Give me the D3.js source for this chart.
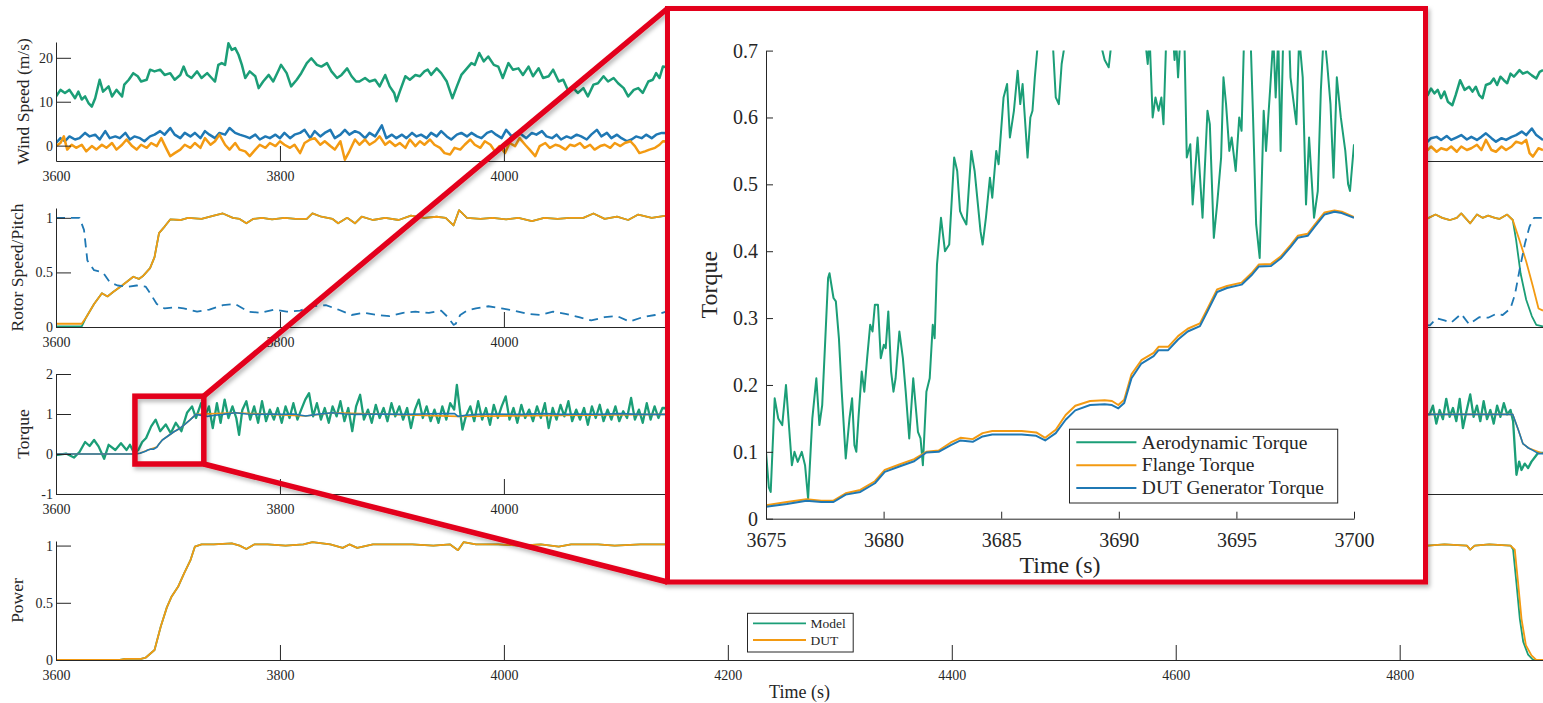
<!DOCTYPE html>
<html><head><meta charset="utf-8">
<script src="https://cdn.jsdelivr.net/npm/d3@7"></script>
<style>
body{margin:0;background:#fff}
svg{display:block}
text{font-family:"Liberation Serif","Times New Roman",serif;fill:#262626}
</style></head>
<body><svg id="chart" width="1543" height="703"></svg>
<script>
// ---------------- DATA ----------------
const xTicks = [3600,3800,4000,4200,4400,4600,4800];
const xTicksUnderInset = [4200,4400,4600,4800]; // labels hidden by the zoom inset on the upper panels
const windTicks = [0,10,20];
const rotorTicks = [0,0.5,1];
const torqueTicks = [-1,0,1,2];
const powerTicks = [0,0.5,1];
const insetXTicks = [3675,3680,3685,3690,3695,3700];
const insetYTicks = [0,0.1,0.2,0.3,0.4,0.5,0.6,0.7];

// Wind speed (m/s): [time, value]
const windGreen = [[3600,11.2],[3604,12.7],[3608,12],[3612,12.7],[3617,10.8],[3620,12.3],[3623,10.5],[3626,11.2],[3629,9.7],[3632,8.9],[3635,10.8],[3639,15],[3642,12.3],[3647,13.5],[3650,11.2],[3654,12.7],[3659,11.2],[3661,13.9],[3665,15],[3669,16.5],[3673,15.8],[3676,14.6],[3681,15],[3684,17.3],[3688,16.9],[3693,17.3],[3697,16.1],[3702,16.5],[3706,15],[3711,16.1],[3714,18],[3717,16.1],[3721,15.4],[3726,16.9],[3730,15.4],[3735,16.5],[3739,15.4],[3742,14.6],[3745,18.4],[3748,18.8],[3751,18.4],[3754,23.3],[3757,21.8],[3760,22.2],[3763,20.7],[3766,18.4],[3769,15.4],[3773,16.9],[3778,15.8],[3781,13.1],[3785,14.6],[3790,16.1],[3794,14.6],[3799,17.3],[3801,18.4],[3806,16.5],[3810,13.5],[3815,15],[3819,16.5],[3824,18.8],[3828,19.9],[3833,18.4],[3837,18],[3842,18.8],[3846,16.9],[3851,15.4],[3855,16.1],[3860,17.6],[3864,15.8],[3868,14.6],[3871,14.6],[3876,15.4],[3880,14.6],[3885,15],[3889,13.5],[3894,16.1],[3898,13.5],[3902,12],[3904,10.1],[3907,12.3],[3912,15.8],[3916,15],[3921,16.1],[3925,15.8],[3929,16.9],[3932,17.3],[3935,16.1],[3940,17.6],[3944,16.5],[3949,14.6],[3952,12.3],[3954,10.8],[3958,13.5],[3962,16.1],[3967,17.6],[3971,18.8],[3974,18.4],[3978,21.1],[3982,19.2],[3986,20.3],[3991,18.4],[3995,18],[3999,15.4],[4004,18.8],[4008,17.3],[4013,17.6],[4017,16.1],[4022,18],[4026,15.8],[4031,17.6],[4035,15.4],[4040,15.8],[4044,17.3],[4049,14.6],[4053,15],[4057,12.7],[4062,13.1],[4066,12],[4071,13.1],[4075,11.2],[4080,13.9],[4084,14.2],[4089,15.8],[4093,14.6],[4098,15.4],[4102,14.2],[4107,13.1],[4111,11.2],[4116,12.7],[4120,13.1],[4124,12],[4129,14.6],[4133,15],[4136,16.5],[4139,15.4],[4142,18],[4200,15],[4300,14],[4400,16],[4500,13],[4600,15],[4700,14],[4800,12],[4825,11.5],[4828,13],[4831,11.9],[4834,12.7],[4837,10.8],[4840,12.3],[4843,10],[4847,9.2],[4850,11.5],[4854,14.9],[4858,12.7],[4862,13.4],[4865,12.3],[4868,13.4],[4871,11.5],[4874,10.8],[4877,13.8],[4881,14.2],[4884,15.3],[4887,13.8],[4890,15.7],[4893,14.9],[4896,14.2],[4899,16.4],[4902,15.7],[4907,17.2],[4910,16.4],[4914,16.8],[4918,16],[4922,15.3],[4925,16.8],[4928,17.2]];

const windBlue = [[3600,0.6],[3604,1.7],[3608,1],[3612,2.1],[3617,1.4],[3621,1.7],[3626,2.9],[3630,2.1],[3635,2.5],[3639,1.4],[3644,3.3],[3648,1.7],[3653,2.1],[3657,1.7],[3662,2.9],[3666,1.4],[3670,2.1],[3675,1.7],[3679,1],[3684,2.1],[3688,2.5],[3693,3.3],[3697,2.5],[3702,4],[3706,2.5],[3711,1.7],[3715,2.9],[3720,2.1],[3724,2.9],[3729,1.7],[3733,3.3],[3737,2.5],[3742,1.7],[3746,2.9],[3751,2.5],[3755,4],[3760,2.9],[3764,2.5],[3769,2.1],[3773,1.7],[3778,2.5],[3782,1.4],[3787,2.1],[3791,1.7],[3796,2.5],[3800,1.7],[3804,2.9],[3809,1.7],[3813,2.5],[3818,2.9],[3822,3.6],[3827,1.7],[3831,3.3],[3836,2.1],[3840,2.9],[3845,3.6],[3849,1.7],[3854,2.5],[3858,3.6],[3862,2.5],[3867,3.3],[3871,2.9],[3876,1.7],[3880,2.9],[3885,2.1],[3891,4.6],[3895,1.7],[3900,2.5],[3904,1.7],[3909,2.5],[3913,1.7],[3918,2.9],[3922,2.1],[3926,2.5],[3931,1.7],[3935,2.9],[3940,2.1],[3944,3.3],[3949,2.1],[3953,1.4],[3958,2.5],[3962,2.9],[3967,2.1],[3971,2.9],[3976,2.1],[3980,1.7],[3985,2.9],[3989,3.3],[3993,2.5],[3998,1.7],[4002,3.6],[4007,2.1],[4011,2.9],[4016,2.5],[4020,1.7],[4025,2.9],[4029,2.5],[4034,3.3],[4038,2.1],[4043,1.7],[4047,2.5],[4051,1.4],[4056,2.1],[4060,1.7],[4065,2.5],[4069,2.1],[4074,1.4],[4078,2.5],[4083,3.6],[4087,2.1],[4092,2.9],[4096,1.7],[4101,2.5],[4105,1.7],[4110,1],[4114,1.4],[4118,2.1],[4123,1.7],[4127,2.5],[4132,1.7],[4136,2.5],[4141,2.9],[4300,2],[4500,2],[4700,2],[4825,0.9],[4828,1.7],[4833,2],[4837,1.3],[4842,2.2],[4846,1.3],[4851,1.9],[4855,2.4],[4860,1.4],[4864,2],[4869,1.3],[4873,2],[4877,2.8],[4882,1.7],[4886,0.9],[4891,1.7],[4895,1.3],[4900,2],[4904,2.4],[4909,3.2],[4913,2.4],[4918,3.9],[4922,2.4],[4928,1.3]];

const windOrange = [[3600,-0.1],[3604,0.6],[3607,2.1],[3610,-0.9],[3614,0.2],[3618,-0.5],[3623,0.2],[3627,-1.3],[3632,-0.1],[3636,-0.9],[3641,0.2],[3645,-0.5],[3650,0.6],[3654,-0.9],[3659,0.2],[3663,1.4],[3668,-0.1],[3672,-0.9],[3676,0.2],[3681,-0.5],[3685,0.6],[3690,-0.1],[3694,1.7],[3699,-0.9],[3702,-2.4],[3706,-1.7],[3711,-0.9],[3715,0.2],[3720,-0.5],[3724,0.6],[3729,-0.5],[3733,1.7],[3738,0.2],[3742,1],[3746,2.5],[3751,0.2],[3755,-0.9],[3760,0.6],[3764,-0.9],[3769,-1.3],[3773,-2.4],[3778,-0.9],[3782,0.2],[3787,-0.5],[3791,0.6],[3796,-0.1],[3800,1],[3804,0.2],[3809,-0.5],[3813,0.2],[3818,-1.7],[3822,0.6],[3827,1.4],[3831,1.7],[3836,0.2],[3840,1],[3845,-0.1],[3849,-0.9],[3854,1],[3858,-3.2],[3862,-1.3],[3867,1.4],[3871,0.2],[3876,1.4],[3880,0.2],[3885,1],[3889,2.1],[3894,0.2],[3898,1],[3903,-0.1],[3907,0.6],[3912,-0.5],[3916,1.4],[3921,-0.1],[3925,1],[3929,0.2],[3934,1.4],[3938,0.2],[3943,-0.5],[3947,-1.7],[3952,-2],[3956,-0.5],[3961,-0.9],[3965,0.2],[3970,1.4],[3974,0.2],[3979,-0.5],[3983,1],[3988,0.2],[3992,-1.3],[3996,-0.1],[4001,-1.7],[4005,0.6],[4010,-0.1],[4014,1.7],[4019,0.2],[4023,-0.9],[4028,-2.4],[4032,-0.1],[4037,0.6],[4041,-0.5],[4046,0.2],[4050,-0.1],[4055,-0.9],[4059,0.2],[4063,-0.1],[4068,0.6],[4072,-0.5],[4077,0.2],[4081,-0.9],[4086,-0.1],[4090,0.2],[4095,-0.5],[4099,0.6],[4104,-0.1],[4108,0.6],[4113,1],[4117,-0.1],[4121,-1.7],[4126,-1.3],[4130,-0.9],[4135,-0.5],[4139,0.2],[4142,1],[4300,0],[4500,0],[4700,0],[4825,-1],[4828,-0.2],[4833,-1.4],[4837,-0.6],[4842,-1],[4846,-0.2],[4851,-1.4],[4855,-0.2],[4860,-1],[4864,-0.6],[4869,0.2],[4873,-1],[4877,1.3],[4882,-1],[4886,-1.4],[4891,-0.2],[4895,-1],[4900,-0.2],[4904,0.9],[4909,0.5],[4913,1.3],[4916,-1.7],[4919,-2.5],[4924,-0.6],[4928,-1]];

// Rotor speed / pitch
const rotorModelStart = [[3600,0.006],[3623,0.006]];
const rotorDUTStart = [[3600,0.03],[3623,0.03]];
const rotorMid = [[3627,0.09],[3634,0.21],[3641,0.31],[3646,0.28],[3651,0.32],[3659,0.38],[3669,0.46],[3674,0.44],[3678,0.47],[3684,0.54],[3688,0.64],[3692,0.86],[3697,0.92],[3702,0.985],[3711,0.98],[3718,1.0],[3730,0.99],[3741,1.02],[3749,1.04],[3758,1.0],[3764,0.99],[3770,0.95],[3776,0.99],[3784,1.0],[3793,0.985],[3804,1.0],[3814,0.99],[3824,0.99],[3829,1.04],[3837,1.01],[3847,0.99],[3852,0.95],[3860,1.0],[3867,0.95],[3873,1.01],[3883,0.98],[3894,1.0],[3906,0.98],[3917,1.02],[3929,1.0],[3940,1.01],[3948,1.0],[3955,0.93],[3960,1.07],[3967,1.0],[3979,0.99],[3990,1.0],[4002,0.985],[4013,1.0],[4025,0.97],[4036,1.0],[4048,0.99],[4059,1.0],[4071,1.0],[4080,1.04],[4090,0.99],[4101,1.01],[4111,0.98],[4120,1.03],[4132,1.0],[4145,1.02],[4300,1.0],[4500,1.0],[4700,1.0],[4825,0.995],[4832,1.03],[4838,1.0],[4845,0.98],[4851,1.0],[4855,1.04],[4863,0.95],[4869,1.03],[4874,1.0],[4879,1.02],[4885,1.0],[4889,0.99],[4896,1.03],[4901,0.98]];
const rotorModelEnd = [[4904,0.795],[4908,0.49],[4913,0.25],[4918,0.1],[4922,0.02],[4928,0.005]];
const rotorDUTEnd = [[4907,0.795],[4913,0.6],[4919,0.37],[4924,0.17],[4928,0.15]];
const pitch = [[3600,1],[3621,1],[3625,0.89],[3628,0.61],[3634,0.52],[3642,0.5],[3648,0.41],[3655,0.38],[3665,0.37],[3672,0.38],[3680,0.37],[3684,0.31],[3690,0.21],[3697,0.17],[3707,0.18],[3714,0.17],[3726,0.14],[3737,0.16],[3749,0.2],[3760,0.21],[3772,0.14],[3783,0.13],[3795,0.16],[3806,0.14],[3818,0.15],[3829,0.19],[3841,0.2],[3852,0.16],[3864,0.11],[3875,0.13],[3887,0.11],[3898,0.1],[3910,0.13],[3921,0.14],[3933,0.13],[3944,0.15],[3950,0.09],[3955,0.02],[3957,0.03],[3961,0.11],[3967,0.15],[3975,0.17],[3986,0.19],[3998,0.17],[4009,0.15],[4021,0.12],[4032,0.11],[4044,0.14],[4055,0.12],[4067,0.09],[4078,0.06],[4090,0.09],[4101,0.1],[4112,0.05],[4124,0.09],[4135,0.11],[4145,0.14],[4400,0.1],[4600,0.1],[4827,0.015],[4833,0.08],[4840,0.06],[4846,0.04],[4855,0.12],[4862,0.025],[4871,0.09],[4879,0.085],[4886,0.12],[4892,0.11],[4899,0.17],[4903,0.3],[4907,0.52],[4912,0.77],[4916,0.92],[4920,1.0],[4928,1.0]];

// Torque
const torqueAero = [[3600,-0.03],[3609,0.01],[3616,-0.09],[3621,0.05],[3626,0.3],[3630,0.2],[3634,0.35],[3638,0.19],[3643,-0.12],[3647,0.23],[3653,0.1],[3658,0.27],[3663,0.1],[3666,0.23],[3670,0.01],[3673.5,0.1],[3677,0.3],[3680.5,0.4],[3685,0.69],[3689,0.86],[3693,0.57],[3698,0.74],[3702.5,0.52],[3707,0.78],[3712,0.57],[3717,1.03],[3721.5,1.19],[3725,0.9],[3729.6,1.27],[3733,0.94],[3736.6,1.19],[3740,0.65],[3743.7,1.27],[3747,0.78],[3750.6,1.36],[3754,0.9],[3757.6,1.19],[3761,0.9],[3763.5,0.48],[3766.4,1.1],[3770,1.32],[3773.4,0.86],[3777,1.19],[3780.5,0.78],[3784,1.32],[3787.6,0.82],[3791,1.11],[3794.6,0.86],[3798,1.15],[3801.6,0.78],[3805,1.19],[3808.6,0.9],[3812,1.27],[3815.6,0.86],[3819,1.11],[3822.6,1.36],[3826,1.52],[3829.6,0.94],[3833,1.27],[3836.6,0.86],[3840,1.15],[3843.6,0.78],[3847,1.19],[3850.6,0.94],[3854,1.32],[3857.6,0.82],[3861,1.15],[3864.6,0.57],[3868,1.19],[3871.6,1.48],[3875,0.86],[3878.6,1.11],[3882,0.78],[3885.6,1.23],[3889,0.9],[3892.6,1.15],[3896,0.82],[3899.6,1.27],[3903,0.94],[3906.6,1.19],[3910,0.86],[3913.6,1.15],[3917,0.65],[3920.6,1.11],[3924,1.36],[3927.6,0.9],[3931,1.19],[3934.6,0.82],[3938,1.11],[3941.6,0.78],[3945,1.19],[3948.6,0.86],[3952,1.27],[3955.6,1.11],[3958,1.73],[3961,1.03],[3963,0.61],[3966,0.94],[3970,1.19],[3973.5,0.82],[3977,1.32],[3980.6,0.86],[3984,1.15],[3987.6,0.73],[3991,1.23],[3994.6,0.9],[3998,1.19],[4001.6,1.44],[4005,0.86],[4008.6,1.15],[4012,0.78],[4015.6,1.23],[4019,0.9],[4022.6,1.11],[4026,0.82],[4029.6,1.19],[4033,0.9],[4036.6,1.27],[4040,0.65],[4043.6,1.15],[4047,0.86],[4050.6,1.23],[4054,0.94],[4057.6,1.32],[4061,0.82],[4064.6,1.11],[4068,0.86],[4071.6,1.15],[4075,0.73],[4078.6,1.19],[4082,0.9],[4085.6,1.23],[4089,0.82],[4092.6,1.11],[4096,0.86],[4099.6,1.19],[4103,0.82],[4106.6,1.07],[4110,0.9],[4113.6,1.4],[4117,0.86],[4120.6,1.11],[4124,0.78],[4127.6,1.27],[4131,0.86],[4134.6,1.19],[4138,0.9],[4141.6,1.15],[4300,1],[4500,1],[4700,1],[4826.8,0.99],[4829.7,1.21],[4832.7,0.76],[4835.7,1.1],[4838.6,0.87],[4841.6,1.38],[4844.6,0.93],[4847.6,1.15],[4850.6,0.82],[4853.6,1.38],[4856.5,0.65],[4859.5,1.05],[4863,1.49],[4866,0.93],[4869,1.21],[4872,0.82],[4875,1.32],[4878,0.87],[4881,1.1],[4884,0.76],[4887,1.21],[4890,0.93],[4893,1.27],[4896,0.99],[4899,1.1],[4901.3,0.82],[4902.8,0.15],[4904.3,-0.52],[4906.7,-0.19],[4908.8,-0.4],[4911.7,-0.24],[4914.7,-0.35],[4917.7,-0.19],[4920.7,-0.08],[4923.7,0.03],[4928,0.03]];
const torqueFlange = [[3600,0],[3670,0],[3675,0.02],[3682,0.1],[3690,0.176],[3695,0.355],[3700,0.45],[3705,0.55],[3710,0.63],[3715,0.74],[3720,0.86],[3725,0.99],[3760,1.03],[3823,0.95],[3847,1.03],[3959,0.94],[4142,0.99],[4901,0.99],[4906,0.6],[4910,0.26],[4915,0.15],[4928,0.01]];
const torqueGen = [[3600,0],[3670,0],[3675,0.018],[3680,0.07],[3682,0.1],[3685,0.125],[3687,0.12],[3690,0.17],[3692,0.25],[3695,0.35],[3700,0.45],[3705,0.55],[3710,0.63],[3715,0.74],[3720,0.86],[3725,0.99],[3735,0.94],[3742,0.97],[3749,0.99],[3760,1.03],[3770,1.0],[3781,0.99],[3791,1.0],[3802,0.99],[3812,1.0],[3823,0.95],[3833,0.99],[3847,1.03],[3858,1.0],[3868,0.99],[3893,1.0],[3910,0.99],[3928,1.0],[3945,1.01],[3956,1.01],[3959,0.94],[3966,0.97],[3977,0.99],[3991,1.0],[4016,0.99],[4037,1.01],[4051,0.99],[4072,1.0],[4086,0.99],[4103,1.01],[4121,0.99],[4142,0.99],[4300,1],[4500,1],[4700,1],[4827,0.99],[4901,0.99],[4906,0.6],[4910,0.26],[4915,0.15],[4919,0.09],[4924,0.01],[4928,0.01]];

// Power
const powerMid = [[3600,0],[3657,0],[3662,0.01],[3676,0.01],[3680,0.02],[3688,0.087],[3693.5,0.29],[3699,0.46],[3703,0.55],[3709,0.64],[3714.5,0.76],[3720,0.87],[3724,0.99],[3730,1.01],[3741,1.01],[3757,1.02],[3764,1.0],[3770,0.97],[3777,1.01],[3789,1.01],[3805,1.0],[3821,1.01],[3829,1.03],[3845,1.01],[3856,0.98],[3862,1.01],[3869,0.98],[3883,1.01],[3899,1.01],[3918,1.01],[3937,1.0],[3952,1.01],[3959,0.96],[3964,1.03],[3975,1.01],[3995,1.01],[4014,1.0],[4033,1.01],[4049,0.99],[4060,1.01],[4084,1.01],[4099,1.0],[4122,1.01],[4145,1.01],[4400,1],[4700,1],[4825,1.0],[4840,1.01],[4860,1.0],[4863,0.965],[4867,1.0],[4880,1.01],[4899,1.0]];
const powerModelEnd = [[4901.3,0.965],[4904.3,0.67],[4907.3,0.36],[4910.3,0.16],[4914.7,0.046],[4919.2,0],[4928,0]];
const powerDUTEnd = [[4902.8,0.965],[4905.8,0.67],[4908.8,0.36],[4912.7,0.13],[4917.7,0.04],[4922,0],[4928,0]];

// Inset (3675-3700 s)
const insetAero = [[3675.00,0.10],[3675.12,0.047],[3675.2,0.04],[3675.37,0.18],[3675.52,0.15],[3675.69,0.14],[3675.85,0.2],[3676.10,0.08],[3676.21,0.1],[3676.35,0.085],[3676.52,0.1],[3676.66,0.08],[3676.79,0.03],[3676.97,0.15],[3677.14,0.21],[3677.27,0.14],[3677.39,0.17],[3677.51,0.26],[3677.64,0.36],[3677.70,0.367],[3677.87,0.33],[3677.97,0.325],[3678.10,0.27],[3678.22,0.19],[3678.39,0.09],[3678.55,0.15],[3678.66,0.18],[3678.76,0.11],[3678.84,0.1],[3678.93,0.15],[3679.07,0.22],[3679.18,0.19],[3679.30,0.24],[3679.43,0.29],[3679.53,0.28],[3679.63,0.32],[3679.76,0.32],[3679.88,0.24],[3680.01,0.26],[3680.09,0.255],[3680.20,0.31],[3680.32,0.22],[3680.42,0.19],[3680.51,0.21],[3680.67,0.28],[3680.82,0.24],[3680.94,0.19],[3681.09,0.12],[3681.26,0.21],[3681.36,0.17],[3681.46,0.13],[3681.57,0.12],[3681.67,0.08],[3681.82,0.19],[3681.96,0.21],[3682.09,0.29],[3682.17,0.27],[3682.27,0.38],[3682.44,0.45],[3682.61,0.4],[3682.79,0.41],[3683.00,0.54],[3683.13,0.52],[3683.25,0.46],[3683.37,0.45],[3683.52,0.44],[3683.73,0.55],[3683.87,0.52],[3684.12,0.43],[3684.21,0.41],[3684.35,0.45],[3684.52,0.51],[3684.62,0.48],[3684.79,0.55],[3684.89,0.53],[3685.10,0.63],[3685.25,0.65],[3685.37,0.57],[3685.54,0.61],[3685.70,0.67],[3685.81,0.62],[3685.91,0.65],[3686.12,0.54],[3686.24,0.6],[3686.33,0.61],[3686.43,0.66],[3686.53,0.7],[3686.80,0.78],[3687.15,0.74],[3687.32,0.63],[3687.45,0.62],[3687.57,0.68],[3687.66,0.7],[3688.0,0.8],[3688.7,0.85],[3689.30,0.7],[3689.40,0.686],[3689.57,0.675],[3689.65,0.7],[3690.0,0.82],[3690.6,0.9],[3691.17,0.7],[3691.23,0.68],[3691.31,0.72],[3691.44,0.6],[3691.56,0.63],[3691.69,0.61],[3691.81,0.63],[3691.90,0.59],[3692.00,0.7],[3692.14,0.8],[3692.31,0.72],[3692.37,0.686],[3692.43,0.72],[3692.52,0.66],[3692.62,0.72],[3692.77,0.75],[3692.89,0.54],[3693.04,0.56],[3693.14,0.47],[3693.35,0.57],[3693.56,0.45],[3693.77,0.61],[3693.87,0.59],[3694.04,0.42],[3694.18,0.47],[3694.35,0.54],[3694.45,0.66],[3694.56,0.62],[3694.70,0.55],[3694.80,0.57],[3694.97,0.52],[3695.12,0.6],[3695.22,0.58],[3695.35,0.75],[3695.53,0.8],[3695.70,0.61],[3695.84,0.44],[3695.99,0.39],[3696.16,0.61],[3696.26,0.55],[3696.43,0.64],[3696.57,0.72],[3696.67,0.63],[3696.78,0.72],[3696.88,0.55],[3697.01,0.75],[3697.19,0.78],[3697.30,0.66],[3697.55,0.59],[3697.67,0.72],[3697.82,0.66],[3697.96,0.47],[3698.09,0.57],[3698.30,0.45],[3698.46,0.49],[3698.59,0.64],[3698.72,0.73],[3698.86,0.68],[3699.00,0.62],[3699.13,0.51],[3699.27,0.66],[3699.44,0.6],[3699.63,0.55],[3699.75,0.5],[3699.83,0.49],[3700.00,0.56]];
const insetT = [3675,3675.89,3676.72,3677.35,3677.87,3678.39,3679.01,3679.63,3680.05,3680.67,3681.3,3681.82,3682.34,3682.86,3683.27,3683.79,3684.21,3684.62,3685.25,3685.87,3686.49,3686.87,3687.32,3687.74,3688.15,3688.78,3689.4,3689.71,3689.98,3690.23,3690.54,3690.96,3691.48,3691.69,3692.1,3692.52,3692.93,3693.45,3693.77,3694.18,3694.6,3695.22,3695.64,3695.95,3696.47,3696.88,3697.3,3697.61,3698.03,3698.34,3698.75,3699.17,3699.48,3700];
const insetGen = [0.018,0.022,0.027,0.025,0.025,0.036,0.04,0.053,0.07,0.078,0.086,0.099,0.1,0.11,0.117,0.115,0.123,0.126,0.126,0.126,0.124,0.117,0.128,0.148,0.162,0.17,0.171,0.17,0.165,0.173,0.21,0.232,0.243,0.252,0.252,0.268,0.28,0.288,0.31,0.339,0.345,0.35,0.364,0.377,0.378,0.389,0.406,0.42,0.423,0.437,0.455,0.459,0.457,0.45];
const insetFlange = [0.02,0.025,0.029,0.027,0.027,0.038,0.043,0.056,0.073,0.081,0.089,0.1,0.102,0.114,0.121,0.119,0.128,0.131,0.131,0.131,0.129,0.121,0.133,0.155,0.169,0.176,0.177,0.176,0.17,0.178,0.216,0.237,0.248,0.257,0.257,0.273,0.284,0.292,0.314,0.343,0.348,0.353,0.367,0.38,0.381,0.392,0.409,0.423,0.426,0.44,0.458,0.461,0.459,0.451];

const insetLegend = ['Aerodynamic Torque','Flange Torque','DUT Generator Torque'];
const mainLegend = ['Model','DUT'];
// zoomed window annotation, in data units (time, torque)
const zoomBoxT = [3670.5, 3732];
const zoomBoxTorque = [-0.25, 1.445];

// ---------------- STYLE / LAYOUT ----------------
const GREEN = '#1b9e77', ORANGE = '#f39a12', BLUE = '#1f78b4', RED = '#e3001b', INK = '#262626';
const svg = d3.select('#chart');
const defs = svg.append('defs');
const f = defs.append('filter').attr('id','shadow').attr('x','-20%').attr('y','-20%').attr('width','140%').attr('height','140%');
f.append('feDropShadow').attr('dx',2).attr('dy',3).attr('stdDeviation',2).attr('flood-color','#000').attr('flood-opacity',0.28);

const x = d3.scaleLinear().domain([3600, 4928]).range([56, 1543]);

const panels = [
  {id:'wind', domain:[-3.5,23.6], range:[161,42], ticks:windTicks, label:'Wind Speed (m/s)', lx:28.5, covered:true,
   series:[{d:windGreen,c:GREEN,w:2.5},{d:windBlue,c:BLUE,w:2.5},{d:windOrange,c:ORANGE,w:2.5}]},
  {id:'rotor', domain:[0,1.09], range:[327,208], ticks:rotorTicks, label:'Rotor Speed/Pitch', lx:23, covered:true,
   series:[{d:[...rotorModelStart,...rotorMid,...rotorModelEnd],c:GREEN,w:1.8},
           {d:[...rotorDUTStart,...rotorMid,...rotorDUTEnd],c:ORANGE,w:1.8},
           {d:pitch,c:BLUE,w:1.8,dash:'9,6'}]},
  {id:'torque', domain:[-1,2], range:[494,374], ticks:torqueTicks, label:'Torque', lx:28.5, covered:true,
   series:[{d:torqueAero,c:GREEN,w:2.3},{d:torqueFlange,c:ORANGE,w:1.6},{d:torqueGen,c:BLUE,w:1.6}]},
  {id:'power', domain:[0,1.04], range:[660,541], ticks:powerTicks, label:'Power', lx:23, covered:false,
   series:[{d:[...powerMid,...powerModelEnd],c:GREEN,w:1.8},{d:[...powerMid,...powerDUTEnd],c:ORANGE,w:1.8}]}
];

function styleAxis(g, fs){
  g.attr('font-size',null).attr('font-family',null);
  g.selectAll('path.domain').attr('stroke',INK);
  g.selectAll('.tick line').attr('stroke',INK);
  g.selectAll('.tick text').attr('fill',INK).style('font-size',fs+'px');
}
const fmt = d => String(d);

const yScales = {};
panels.forEach(p => {
  const y = d3.scaleLinear().domain(p.domain).range(p.range);
  yScales[p.id] = y;
  defs.append('clipPath').attr('id','clip-'+p.id).append('rect')
    .attr('x',56).attr('y',p.range[1]-2).attr('width',1543-56).attr('height',p.range[0]-p.range[1]+4);
  const g = svg.append('g');
  const line = d3.line().x(d=>x(d[0])).y(d=>y(d[1]));
  const lg = g.append('g').attr('clip-path','url(#clip-'+p.id+')');
  p.series.forEach(s => {
    lg.append('path').attr('d',line(s.d)).attr('fill','none').attr('stroke',s.c)
      .attr('stroke-width',s.w).attr('stroke-linejoin','round')
      .attr('stroke-dasharray',s.dash||null);
  });
  const xf = p.covered ? (d => xTicksUnderInset.includes(d) ? '' : String(d)) : fmt;
  const xa = g.append('g').attr('transform',`translate(0,${p.range[0]})`)
    .call(d3.axisBottom(x).tickValues(xTicks).tickSizeInner(-15).tickSizeOuter(0).tickPadding(10.5).tickFormat(xf));
  styleAxis(xa,14);
  const ya = g.append('g').attr('transform','translate(56,0)')
    .call(d3.axisLeft(y).tickValues(p.ticks).tickSizeInner(-15).tickSizeOuter(0).tickPadding(3).tickFormat(fmt));
  styleAxis(ya,14);
  g.append('text').attr('transform',`translate(${p.lx},${(p.range[0]+p.range[1])/2}) rotate(-90)`)
    .attr('text-anchor','middle').style('font-size','17.5px').text(p.label);
});

svg.append('text').attr('x',(x.range()[0]+x.range()[1])/2).attr('y',698).attr('text-anchor','middle')
  .style('font-size','18px').text('Time (s)');

// main legend
const ml = svg.append('g');
ml.append('rect').attr('x',747.5).attr('y',613.3).attr('width',105.7).attr('height',38.7)
  .attr('fill','#fff').attr('stroke',INK).attr('stroke-width',1);
[GREEN, ORANGE].forEach((c,i) => {
  const yy = 623.3 + i*16.7;
  ml.append('line').attr('x1',753).attr('x2',806).attr('y1',yy).attr('y2',yy).attr('stroke',c).attr('stroke-width',1.8);
  ml.append('text').attr('x',810.6).attr('y',yy+4.6).style('font-size','13.5px').text(mainLegend[i]);
});

// zoom annotation (red)
const yT = yScales.torque;
const bx0 = x(zoomBoxT[0]), bx1 = x(zoomBoxT[1]), by0 = yT(zoomBoxTorque[1]), by1 = yT(zoomBoxTorque[0]);
const inset = {x0:667.5, y0:8.5, x1:1425.5, y1:582};
const red = svg.append('g').attr('filter','url(#shadow)');
red.append('rect').attr('x',bx0).attr('y',by0).attr('width',bx1-bx0).attr('height',by1-by0)
  .attr('fill','none').attr('stroke',RED).attr('stroke-width',5.5);
red.append('line').attr('x1',bx1).attr('y1',by0).attr('x2',inset.x0).attr('y2',inset.y0)
  .attr('stroke',RED).attr('stroke-width',5.5);
red.append('line').attr('x1',bx1).attr('y1',by1).attr('x2',inset.x0).attr('y2',inset.y1)
  .attr('stroke',RED).attr('stroke-width',5.5);
red.append('rect').attr('x',inset.x0).attr('y',inset.y0).attr('width',inset.x1-inset.x0).attr('height',inset.y1-inset.y0)
  .attr('fill','#fff').attr('stroke',RED).attr('stroke-width',5);

// inset plot
const xi = d3.scaleLinear().domain([3675,3700]).range([766,1354]);
const yi = d3.scaleLinear().domain([0,0.7]).range([518.7,50.6]);
defs.append('clipPath').attr('id','clip-inset').append('rect')
  .attr('x',766).attr('y',50.6).attr('width',588).attr('height',468.1);
const ig = svg.append('g');
const il = ig.append('g').attr('clip-path','url(#clip-inset)');
const iline = d3.line().x(d=>xi(d[0])).y(d=>yi(d[1]));
const flangeInset = insetT.map((t,i)=>[t,insetFlange[i]]);
const genInset = insetT.map((t,i)=>[t,insetGen[i]]);
il.append('path').attr('d',iline(insetAero)).attr('fill','none').attr('stroke',GREEN).attr('stroke-width',2).attr('stroke-linejoin','round');
il.append('path').attr('d',iline(flangeInset)).attr('fill','none').attr('stroke',ORANGE).attr('stroke-width',2).attr('stroke-linejoin','round');
il.append('path').attr('d',iline(genInset)).attr('fill','none').attr('stroke',BLUE).attr('stroke-width',2).attr('stroke-linejoin','round');
const ixa = ig.append('g').attr('transform','translate(0,518.7)')
  .call(d3.axisBottom(xi).tickValues(insetXTicks).tickSizeInner(-7).tickSizeOuter(0).tickPadding(14.5).tickFormat(fmt));
styleAxis(ixa,20);
const iya = ig.append('g').attr('transform','translate(766,0)')
  .call(d3.axisLeft(yi).tickValues(insetYTicks).tickSizeInner(-7).tickSizeOuter(0).tickPadding(8).tickFormat(d=>d===0?'0':d.toFixed(1)));
styleAxis(iya,20);
ig.append('text').attr('transform','translate(717,284.6) rotate(-90)').attr('text-anchor','middle')
  .style('font-size','24px').text('Torque');
ig.append('text').attr('x',1060).attr('y',573).attr('text-anchor','middle').style('font-size','24px').text('Time (s)');

// inset legend
const leg = ig.append('g');
leg.append('rect').attr('x',1069.5).attr('y',429.2).attr('width',268.2).attr('height',73.8)
  .attr('fill','#fff').attr('stroke',INK).attr('stroke-width',1);
[GREEN, ORANGE, BLUE].forEach((c,i) => {
  const yy = 442.3 + i*22.85;
  leg.append('line').attr('x1',1076.3).attr('x2',1136.4).attr('y1',yy).attr('y2',yy).attr('stroke',c).attr('stroke-width',2);
  leg.append('text').attr('x',1141.8).attr('y',yy+6.3).style('font-size','19.5px').text(insetLegend[i]);
});
</script>
</body></html>
